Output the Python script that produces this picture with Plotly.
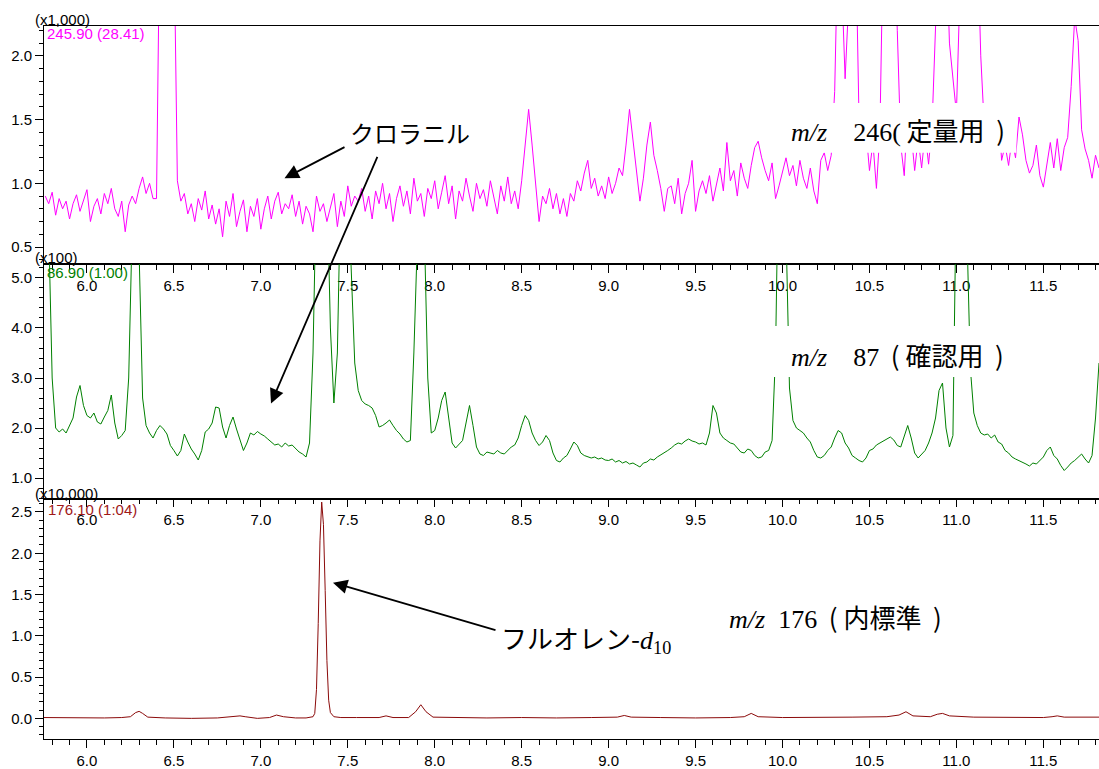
import plotly.graph_objects as go

# ---- acquisition grid (retention time, min) for the m/z 246 and m/z 87 channels ----
scan_start = 5.76
scan_step = 0.02

# m/z 246 (quantitation ion), intensity x1,000
i246 = [
    0.90, 0.84, 0.93, 0.75, 0.88, 0.80, 0.86, 0.72, 0.84, 0.91,
    0.78, 0.86, 0.95, 0.70, 0.82, 0.88, 0.76, 0.92, 0.84, 0.96,
    0.80, 0.74, 0.86, 0.62, 0.83, 0.90, 0.84, 0.96, 1.05, 0.92,
    1.00, 0.88, 0.88, 3.20, 4.50, 5.00, 4.20, 3.00, 1.02, 0.86,
    0.92, 0.76, 0.84, 0.70, 0.88, 0.79, 0.94, 0.72, 0.83, 0.68,
    0.80, 0.58, 0.86, 0.74, 0.92, 0.66, 0.78, 0.87, 0.62, 0.82,
    0.74, 0.88, 0.64, 0.80, 0.90, 0.72, 0.86, 0.93, 0.76, 0.84,
    0.80, 0.91, 0.74, 0.86, 0.68, 0.82, 0.76, 0.62, 0.90, 0.78,
    0.84, 0.70, 0.80, 0.92, 0.66, 0.86, 0.74, 0.98, 0.82, 0.90,
    0.86, 0.96, 0.78, 0.90, 0.72, 0.94, 0.84, 1.00, 0.80, 0.92,
    0.70, 0.88, 0.98, 0.82, 0.94, 0.76, 1.04, 0.86, 0.92, 0.74,
    0.96, 0.88, 1.02, 0.80, 0.93, 1.06, 0.84, 0.98, 0.72, 0.94,
    0.86, 1.04, 0.90, 0.78, 1.00, 0.88, 0.95, 0.82, 1.02, 0.90,
    0.76, 0.98, 0.86, 1.05, 0.84, 0.94, 0.80, 1.02, 1.30, 1.58,
    1.30, 0.98, 0.70, 0.90, 0.84, 0.96, 0.80, 0.92, 0.76, 0.88,
    0.74, 0.92, 0.86, 1.02, 0.94, 1.08, 1.18, 0.96, 1.04, 0.90,
    0.98, 0.88, 1.05, 0.92, 1.00, 1.12, 1.06, 1.30, 1.58, 1.34,
    1.10, 0.86, 1.04, 1.30, 1.48, 1.22, 1.10, 0.96, 0.78, 0.96,
    0.98, 0.84, 1.04, 0.76, 0.92, 1.00, 1.18, 0.78, 0.94, 1.02,
    0.92, 1.06, 0.86, 1.00, 1.12, 0.94, 1.32, 1.02, 1.10, 0.90,
    1.16, 1.04, 0.96, 1.14, 1.28, 1.33, 1.20, 1.10, 1.02, 1.16,
    0.88, 0.98, 1.08, 1.20, 1.06, 1.14, 0.98, 1.18, 1.04, 0.96,
    1.12, 0.94, 0.84, 1.18, 1.24, 1.10, 1.22, 1.72, 3.00, 2.60,
    1.82, 3.00, 3.00, 3.00, 1.50, 1.38, 1.42, 1.10, 1.32, 0.96,
    1.40, 3.00, 3.00, 3.00, 3.00, 2.20, 1.30, 1.06, 1.60, 1.40,
    1.10, 1.35, 1.12, 1.40, 1.15, 1.45, 3.00, 3.00, 3.00, 3.00,
    2.10, 1.80, 1.55, 2.50, 3.00, 3.00, 3.00, 3.00, 3.00, 2.00,
    1.45, 1.35, 1.50, 1.40, 1.62, 1.18, 1.30, 1.14, 1.35, 1.20,
    1.52, 1.38, 1.18, 1.08, 1.14, 1.30, 1.06, 0.97, 1.16, 1.32,
    1.12, 1.35, 1.10, 1.28, 1.36, 1.76, 2.30, 2.12, 1.42, 1.27,
    1.18, 1.04, 1.22, 1.12,
]

# m/z 87 (confirmation ion), intensity x100
i87 = [
    7.00, 6.00, 3.00, 2.00, 1.92, 1.98, 1.90, 2.05, 2.20, 2.62,
    2.85, 2.45, 2.25, 2.20, 2.30, 2.12, 2.08, 2.22, 2.35, 2.66,
    2.10, 1.78, 1.85, 1.95, 3.00, 6.00, 7.00, 5.50, 2.60, 2.05,
    1.90, 1.80, 1.95, 2.05, 1.98, 1.88, 1.65, 1.55, 1.44, 1.55,
    1.88, 1.72, 1.58, 1.48, 1.36, 1.55, 1.92, 1.98, 2.10, 2.42,
    2.40, 2.02, 1.80, 2.05, 2.22, 1.98, 1.78, 1.55, 1.70, 1.90,
    1.86, 1.93, 1.88, 1.84, 1.78, 1.72, 1.66, 1.68, 1.62, 1.70,
    1.64, 1.66, 1.58, 1.52, 1.48, 1.42, 1.70, 3.50, 7.00, 8.00,
    8.00, 7.00, 4.00, 2.50, 3.50, 7.00, 8.00, 7.00, 5.00, 3.30,
    2.75, 2.55, 2.48, 2.45, 2.40, 2.25, 2.02, 2.05, 2.10, 2.16,
    2.05, 1.95, 1.88, 1.78, 1.72, 1.75, 3.50, 8.00, 8.00, 6.00,
    3.00, 1.90, 1.95, 2.20, 2.55, 2.72, 2.20, 1.70, 1.60, 1.68,
    1.75, 2.10, 2.45, 2.05, 1.62, 1.48, 1.45, 1.52, 1.50, 1.48,
    1.55, 1.50, 1.48, 1.55, 1.62, 1.66, 1.80, 2.05, 2.25, 2.15,
    1.90, 1.75, 1.65, 1.72, 1.85, 1.75, 1.50, 1.35, 1.32, 1.40,
    1.45, 1.58, 1.72, 1.65, 1.50, 1.45, 1.42, 1.40, 1.42, 1.38,
    1.40, 1.36, 1.35, 1.38, 1.32, 1.35, 1.30, 1.33, 1.28, 1.30,
    1.26, 1.22, 1.30, 1.32, 1.38, 1.36, 1.42, 1.46, 1.50, 1.55,
    1.60, 1.66, 1.70, 1.68, 1.74, 1.78, 1.74, 1.72, 1.68, 1.70,
    1.66, 1.90, 2.45, 2.30, 1.90, 1.80, 1.75, 1.70, 1.68, 1.60,
    1.52, 1.50, 1.58, 1.55, 1.45, 1.40, 1.42, 1.52, 1.55, 1.75,
    3.50, 8.00, 8.00, 6.00, 2.80, 2.15, 2.00, 1.95, 1.90, 1.80,
    1.72, 1.55, 1.42, 1.40, 1.45, 1.55, 1.62, 1.80, 1.95, 1.90,
    1.70, 1.60, 1.45, 1.40, 1.35, 1.32, 1.40, 1.55, 1.58, 1.66,
    1.70, 1.75, 1.78, 1.82, 1.76, 1.65, 1.62, 1.85, 2.05, 1.80,
    1.50, 1.40, 1.48, 1.55, 1.70, 1.90, 2.20, 2.75, 2.90, 2.00,
    1.62, 1.85, 7.00, 8.00, 8.00, 6.00, 3.20, 2.30, 2.05, 1.90,
    1.86, 1.88, 1.80, 1.86, 1.72, 1.68, 1.55, 1.50, 1.42, 1.38,
    1.35, 1.32, 1.28, 1.24, 1.30, 1.28, 1.35, 1.42, 1.55, 1.62,
    1.45, 1.38, 1.25, 1.15, 1.22, 1.30, 1.35, 1.42, 1.48, 1.38,
    1.30, 1.45, 2.20, 3.30,
]

# m/z 176 (internal standard), intensity x10,000, read at its own time points
t176 = [5.75, 5.90, 6.00, 6.10, 6.20, 6.25, 6.28, 6.30, 6.32, 6.35, 6.45, 6.60,
        6.75, 6.85, 6.88, 6.91, 6.98, 7.05, 7.09, 7.13, 7.20, 7.26, 7.30, 7.31,
        7.32, 7.33, 7.34, 7.35, 7.36, 7.37, 7.38, 7.39, 7.40, 7.42, 7.46, 7.55,
        7.68, 7.72, 7.76, 7.85, 7.89, 7.92, 7.95, 7.99, 8.10, 8.30, 8.50, 8.70,
        8.90, 9.05, 9.09, 9.13, 9.30, 9.50, 9.70, 9.78, 9.82, 9.86, 10.00, 10.20,
        10.40, 10.60, 10.67, 10.71, 10.75, 10.85, 10.89, 10.92, 10.96, 11.10,
        11.30, 11.50, 11.55, 11.58, 11.62, 11.75, 11.82]
i176 = [0.010, 0.005, 0.000, 0.005, 0.010, 0.020, 0.070, 0.085, 0.060, 0.015, 0.005, 0.000,
        0.005, 0.020, 0.030, 0.020, 0.000, 0.010, 0.040, 0.020, 0.005, 0.005, 0.020, 0.060,
        0.350, 1.150, 2.150, 2.620, 2.350, 1.550, 0.700, 0.220, 0.070, 0.020, 0.010, 0.010,
        0.010, 0.030, 0.010, 0.010, 0.080, 0.165, 0.080, 0.015, 0.010, 0.005, 0.010, 0.005,
        0.010, 0.015, 0.035, 0.015, 0.010, 0.005, 0.010, 0.020, 0.060, 0.020, 0.010, 0.010,
        0.015, 0.020, 0.040, 0.080, 0.030, 0.020, 0.050, 0.060, 0.030, 0.015,
        0.010, 0.010, 0.020, 0.030, 0.015, 0.010, 0.015]

t_grid = [round(scan_start + scan_step * k, 2) for k in range(len(i246))]

# ---- figure geometry ----
W, H = 1099, 769
ML, MR, MT, MB = 44, 0, 26, 27
PW, PH = W - ML - MR, H - MT - MB


def px(xp):
    return (xp - ML) / PW


def py(yp):
    return (H - MB - yp) / PH


XR = [5.753, 11.82]
tickfont = dict(family="Liberation Sans, Arial, sans-serif", size=15, color="black")


def xaxis(anchor):
    return dict(anchor=anchor, range=XR, domain=[0, 1], showline=True, linecolor="black",
                linewidth=1, mirror=True, ticks="outside", ticklen=8, tickcolor="black",
                tick0=0, dtick=0.5, tickformat=".1f", tickfont=tickfont, showgrid=False,
                zeroline=False,
                minor=dict(dtick=0.1, ticks="outside", ticklen=5, tickcolor="black",
                           showgrid=False))


def yaxis(anchor, dom, rng, dtick, mdtick):
    return dict(anchor=anchor, domain=dom, range=rng, showline=True, linecolor="black",
                linewidth=1, ticks="outside", ticklen=8, tickcolor="black", tick0=0,
                dtick=dtick, tickformat=".1f", tickfont=tickfont, showgrid=False,
                zeroline=False,
                minor=dict(dtick=mdtick, ticks="outside", ticklen=4, tickcolor="black",
                           showgrid=False))


fig = go.Figure()
fig.add_trace(go.Scatter(x=t_grid, y=i246, mode="lines", line=dict(color="#FF00FF", width=1),
                         xaxis="x", yaxis="y", showlegend=False, hoverinfo="skip"))
fig.add_trace(go.Scatter(x=t_grid, y=i87, mode="lines", line=dict(color="#008000", width=1),
                         xaxis="x2", yaxis="y2", showlegend=False, hoverinfo="skip"))
fig.add_trace(go.Scatter(x=t176, y=i176, mode="lines", line=dict(color="#8B0A0A", width=1),
                         xaxis="x3", yaxis="y3", showlegend=False, hoverinfo="skip"))

# white panels behind the ion labels
shapes = [
    dict(type="rect", xref="x", yref="y", x0=9.98, x1=11.345, y0=1.24, y1=1.63,
         fillcolor="white", line=dict(width=0), layer="above"),
    dict(type="rect", xref="x2", yref="y2", x0=9.93, x1=11.48, y0=3.02, y1=4.04,
         fillcolor="white", line=dict(width=0), layer="above"),
]

serif = "'Liberation Serif', 'Times New Roman', serif"
cjk = "'Noto Sans CJK JP', sans-serif"
small = dict(family="Liberation Sans, Arial, sans-serif", size=15, color="black")
nb = "\u00a0"


def note(x, y, text, font, xanchor="left"):
    return dict(xref="paper", yref="paper", x=x, y=y, text=text, showarrow=False,
                xanchor=xanchor, yanchor="middle", font=font)


def arrow(xh, yh, xt, yt):
    return dict(xref="paper", yref="paper", x=px(xh), y=py(yh), ax=xt - xh, ay=yt - yh,
                text="", showarrow=True, arrowhead=2, arrowsize=1.6, arrowwidth=1.8,
                arrowcolor="black", standoff=0, startstandoff=0)


big = dict(family=cjk, size=26, color="black")

annotations = [
    note(px(33), py(19), "(x1,000)", small),
    note(px(45), py(34), "245.90 (28.41)", dict(small, color="#FF00FF")),
    note(px(33), py(258), "(x100)", small),
    note(px(45), py(274), "86.90 (1.00)", dict(small, color="#008000")),
    note(px(33), py(495), "(x10,000)", small),
    note(px(46), py(512), "176.10 (1:04)", dict(small, color="#A01818")),
    # compound labels and arrows
    note(px(410), py(133), "クロラニル", dict(family=cjk, size=24, color="black"), "center"),
    arrow(284.5, 179, 346, 147),
    arrow(271, 405, 378, 157),
    note(px(499), py(641),
         "フルオレン-<span style=\"font-family:" + serif + "\"><i>d</i><sub>10</sub></span>",
         big),
    arrow(333, 585, 497, 633),
    # ion labels
    note(px(789), py(130),
         "<span style=\"font-family:" + serif + "\"><i>m/z</i>" + nb * 4 + "246(</span>"
         + nb + "定量用" + nb + nb + ")", big),
    note(px(789), py(356),
         "<span style=\"font-family:" + serif + "\"><i>m/z</i>" + nb * 4 + "87</span>"
         + nb + nb + "(" + nb + "確認用" + nb + nb + ")", big),
    note(px(727), py(619),
         "<span style=\"font-family:" + serif + "\"><i>m/z</i>" + nb * 2 + "176</span>"
         + nb + nb + "(" + nb + "内標準" + nb + nb + ")", big),
]

d1 = [py(265), 1.0]
d2 = [py(500), py(265)]
d3 = [0.0, py(502)]

fig.update_layout(
    width=W, height=H, autosize=False,
    margin=dict(l=ML, r=MR, t=MT, b=MB, pad=0),
    paper_bgcolor="white", plot_bgcolor="white",
    xaxis=xaxis("y"),
    xaxis2=xaxis("y2"),
    xaxis3=xaxis("y3"),
    yaxis=yaxis("x", d1, [0.367, 2.234], 0.5, 0.1),
    yaxis2=yaxis("x2", d2, [0.6, 5.28], 1.0, 0.2),
    yaxis3=yaxis("x3", d3, [-0.25, 2.645], 0.5, 0.1),
    shapes=shapes,
    annotations=annotations,
    showlegend=False,
)

fig.write_html("out.html")
